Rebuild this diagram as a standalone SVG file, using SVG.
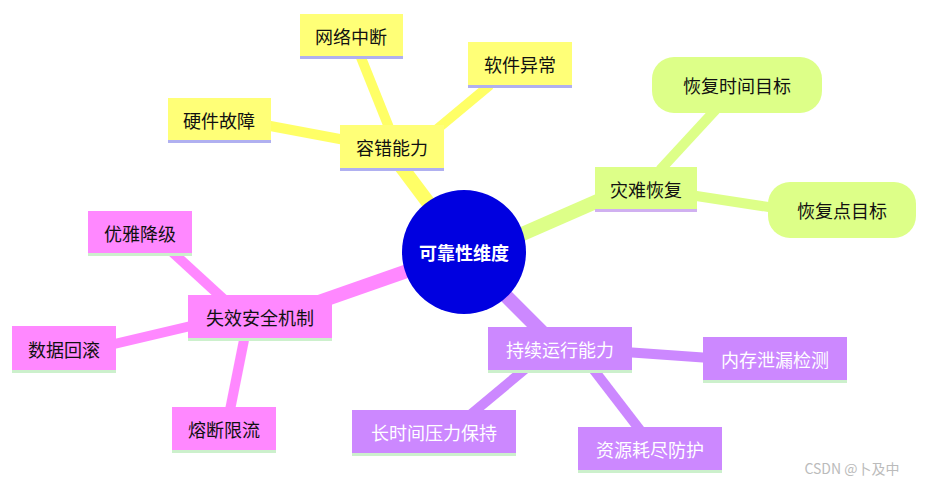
<svg xmlns="http://www.w3.org/2000/svg" width="930" height="484" viewBox="0 0 930 484">
<style>
text{font-family:"Noto Sans CJK SC","Noto Sans",sans-serif;font-size:18px;text-anchor:middle;dominant-baseline:central}
.y{fill:#ffff77}.g{fill:#ddff88}.p{fill:#ff88ff}.v{fill:#cc88ff}
.wt{fill:#fff}.bt{fill:#111}
</style>
<rect width="930" height="484" fill="#fff"/>
<g id="connectors" fill="none" stroke-linecap="butt">
<g stroke="#ffff66">
<line x1="430" y1="205" x2="400" y2="165" stroke-width="14"/>
<line x1="390" y1="130" x2="360" y2="55" stroke-width="10"/>
<line x1="430" y1="135" x2="490" y2="85" stroke-width="10"/>
<line x1="345" y1="140" x2="265" y2="125" stroke-width="10"/>
</g>
<g stroke="#ddff88">
<line x1="520" y1="235" x2="600" y2="200" stroke-width="14"/>
<line x1="660" y1="170" x2="720" y2="105" stroke-width="10"/>
<line x1="690" y1="195" x2="775" y2="208" stroke-width="10"/>
</g>
<g stroke="#ff88ff">
<line x1="410" y1="270" x2="310" y2="305" stroke-width="14"/>
<line x1="230" y1="305" x2="170" y2="250" stroke-width="10"/>
<line x1="195" y1="325" x2="110" y2="345" stroke-width="10"/>
<line x1="245" y1="335" x2="230" y2="410" stroke-width="10"/>
</g>
<g stroke="#cc88ff">
<line x1="505" y1="295" x2="545" y2="335" stroke-width="14"/>
<line x1="625" y1="352" x2="710" y2="358" stroke-width="10"/>
<line x1="530" y1="365" x2="470" y2="415" stroke-width="10"/>
<line x1="590" y1="365" x2="640" y2="430" stroke-width="10"/>
</g>
</g>
<g id="center"><circle cx="464" cy="252" r="62" fill="#0000e0"/><text x="464" y="252" class="wt" font-weight="bold">可靠性维度</text></g>
<g id="rongcuo"><rect x="340" y="125" width="104" height="45" class="y"/><rect x="340" y="168" width="104" height="3" fill="#b0b0f0"/><text x="392" y="147" class="bt">容错能力</text></g>
<g id="wangluo"><rect x="300" y="14" width="103" height="44" class="y"/><rect x="300" y="56" width="103" height="3" fill="#b0b0f0"/><text x="351" y="36" class="bt">网络中断</text></g>
<g id="ruanjian"><rect x="468" y="42" width="104" height="45" class="y"/><rect x="468" y="85" width="104" height="3" fill="#b0b0f0"/><text x="520" y="64" class="bt">软件异常</text></g>
<g id="yingjian"><rect x="168" y="98" width="103" height="44" class="y"/><rect x="168" y="140" width="103" height="3" fill="#b0b0f0"/><text x="219" y="120" class="bt">硬件故障</text></g>
<g id="zainan"><rect x="595" y="167" width="102" height="44" class="g"/><rect x="595" y="209" width="102" height="3" fill="#d0b0f0"/><text x="646" y="189" class="bt">灾难恢复</text></g>
<g id="rto"><rect x="652" y="57" width="170" height="56" rx="22" class="g"/><text x="737" y="85" class="bt">恢复时间目标</text></g>
<g id="rpo"><rect x="768" y="182" width="148" height="56" rx="22" class="g"/><text x="842" y="210" class="bt">恢复点目标</text></g>
<g id="shixiao"><rect x="188" y="295" width="144" height="45" class="p"/><rect x="188" y="338" width="144" height="3" fill="#ccf0cc"/><text x="260" y="317" class="bt">失效安全机制</text></g>
<g id="youya"><rect x="88" y="211" width="104" height="44" class="p"/><rect x="88" y="253" width="104" height="3" fill="#ccf0cc"/><text x="140" y="233" class="bt">优雅降级</text></g>
<g id="shuju"><rect x="12" y="326" width="104" height="46" class="p"/><rect x="12" y="370" width="104" height="3" fill="#ccf0cc"/><text x="64" y="349" class="bt">数据回滚</text></g>
<g id="rongduan"><rect x="172" y="407" width="104" height="45" class="p"/><rect x="172" y="450" width="104" height="3" fill="#ccf0cc"/><text x="224" y="429" class="bt">熔断限流</text></g>
<g id="chixu"><rect x="488" y="327" width="144" height="45" class="v"/><rect x="488" y="370" width="144" height="3" fill="#ccf0cc"/><text x="560" y="349" class="wt">持续运行能力</text></g>
<g id="neicun"><rect x="703" y="337" width="144" height="45" class="v"/><rect x="703" y="380" width="144" height="3" fill="#ccf0cc"/><text x="775" y="359" class="wt">内存泄漏检测</text></g>
<g id="changshi"><rect x="352" y="410" width="164" height="45" class="v"/><rect x="352" y="453" width="164" height="3" fill="#ccf0cc"/><text x="434" y="432" class="wt">长时间压力保持</text></g>
<g id="ziyuan"><rect x="578" y="427" width="144" height="45" class="v"/><rect x="578" y="470" width="144" height="3" fill="#ccf0cc"/><text x="650" y="449" class="wt">资源耗尽防护</text></g>
<text x="852" y="468" style="font-size:14px;fill:#bbb">CSDN @卜及中</text>
</svg>
